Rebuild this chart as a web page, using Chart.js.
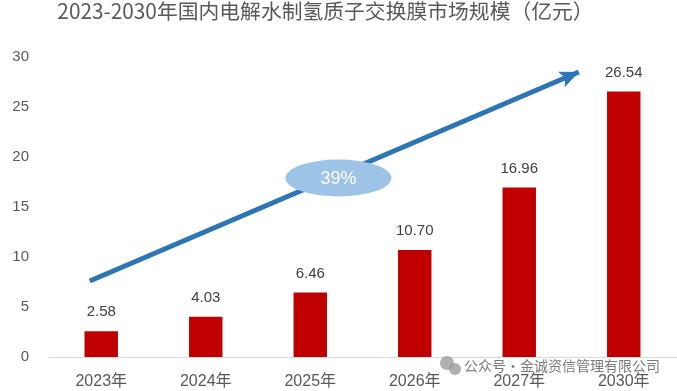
<!DOCTYPE html>
<html>
<head>
<meta charset="utf-8">
<script src="https://cdn.jsdelivr.net/npm/chart.js@4/dist/chart.umd.min.js"></script>
<style>
  html, body { margin: 0; padding: 0; background: #fff; }
  #wrap { position: relative; width: 677px; height: 391px; }
  #title {
    position: absolute; left: 0; top: -2px; width: 651px;
    text-align: center; color: #595959;
    font: 20.8px "Noto Sans CJK SC", sans-serif; line-height: 24px;
  }
</style>
</head>
<body>
<div id="wrap">
  <canvas id="chart" width="677" height="391"></canvas>
  <div id="title">2023-2030年国内电解水制氢质子交换膜市场规模（亿元）</div>
</div>
<script>
// datos del gráfico
const years = ['2023年', '2024年', '2025年', '2026年', '2027年', '2030年'];
const marketSize = [2.58, 4.03, 6.46, 10.70, 16.96, 26.54];
const yTicks = [0, 5, 10, 15, 20, 25, 30];

// flecha de tendencia (índice de categoría, valor) y la tasa de crecimiento
const arrowX = [-0.11, 4.57];
const arrowY = [7.6, 28.5];
const cagrX = 2.27;
const cagrY = 17.9;
const cagrText = '39%';

const FONT = '"Liberation Sans", "Noto Sans CJK SC", sans-serif';

// etiquetas encima de cada barra
const barLabels = {
  id: 'barLabels',
  afterDatasetsDraw(chart) {
    const ctx = chart.ctx;
    const meta = chart.getDatasetMeta(0);
    ctx.save();
    ctx.font = '15px ' + FONT;
    ctx.fillStyle = '#404040';
    ctx.textAlign = 'center';
    ctx.textBaseline = 'middle';
    meta.data.forEach((bar, i) => {
      ctx.fillText(marketSize[i].toFixed(2), bar.x, bar.y - 19);
    });
    ctx.restore();
  }
};

// punta de flecha + elipse con el 39%
const trendDecor = {
  id: 'trendDecor',
  afterDatasetsDraw(chart) {
    const ctx = chart.ctx;
    const pts = chart.getDatasetMeta(1).data;
    const a = pts[0], b = pts[pts.length - 1];
    const ang = Math.atan2(b.y - a.y, b.x - a.x);
    const len = 19, half = 8.5;
    ctx.save();
    ctx.fillStyle = '#2E75B6';
    ctx.translate(b.x, b.y);
    ctx.rotate(ang);
    ctx.beginPath();
    ctx.moveTo(0, 0);
    ctx.lineTo(-len, -half);
    ctx.lineTo(-len * 0.78, 0);
    ctx.lineTo(-len, half);
    ctx.closePath();
    ctx.fill();
    ctx.restore();

    const cx = chart.scales.xa.getPixelForValue(cagrX);
    const cy = chart.scales.y.getPixelForValue(cagrY);
    ctx.save();
    ctx.fillStyle = '#9DC3E6';
    ctx.beginPath();
    ctx.ellipse(cx, cy, 53, 18.5, 0, 0, Math.PI * 2);
    ctx.fill();
    ctx.fillStyle = '#ffffff';
    ctx.font = '18px ' + FONT;
    ctx.textAlign = 'center';
    ctx.textBaseline = 'middle';
    ctx.fillText(cagrText, cx, cy + 1);
    ctx.restore();
  }
};

// marca de agua
const watermark = {
  id: 'watermark',
  afterDraw(chart) {
    const ctx = chart.ctx;
    ctx.save();
    ctx.fillStyle = 'rgba(150,150,150,0.75)';
    ctx.beginPath();
    ctx.arc(447, 363, 7, 0, Math.PI * 2);
    ctx.fill();
    ctx.beginPath();
    ctx.arc(455, 369, 6, 0, Math.PI * 2);
    ctx.fill();
    ctx.fillStyle = 'rgba(90,90,90,0.8)';
    ctx.font = '14px "Noto Sans CJK SC", sans-serif';
    ctx.textBaseline = 'middle';
    ctx.fillText('公众号·金诚资信管理有限公司', 464, 366);
    ctx.restore();
  }
};

new Chart(document.getElementById('chart'), {
  type: 'bar',
  data: {
    labels: years,
    datasets: [{
      data: marketSize,
      backgroundColor: '#C00000',
      grouped: false,
      barPercentage: 0.32,
      categoryPercentage: 1,
      order: 2
    }, {
      type: 'line',
      xAxisID: 'xa',
      data: arrowX.map((x, i) => ({ x, y: arrowY[i] })),
      borderColor: '#2E75B6',
      borderWidth: 5,
      pointRadius: 0,
      order: 1
    }]
  },
  options: {
    responsive: false,
    animation: false,
    layout: { padding: { top: 57, left: 12, right: 1, bottom: 0 } },
    plugins: {
      legend: { display: false },
      tooltip: { enabled: false },
      title: { display: false }
    },
    scales: {
      x: {
        grid: { display: false, drawTicks: false },
        border: { display: true, color: '#D9D9D9', width: 1 },
        ticks: { color: '#595959', font: { size: 16, family: FONT }, padding: 15 },
        afterFit: axis => {
          axis.paddingLeft = 0;
          axis.paddingRight = 0;
          axis.height = 34;
        }
      },
      xa: {
        type: 'linear',
        display: false,
        offset: false,
        min: -0.5,
        max: years.length - 0.5
      },
      y: {
        min: 0,
        max: 30,
        afterBuildTicks: axis => { axis.ticks = yTicks.map(v => ({ value: v })); },
        grid: { display: false, drawTicks: false },
        border: { display: false },
        ticks: { color: '#595959', font: { size: 15, family: FONT }, padding: 20 },
        afterFit: axis => { axis.width = 37; }
      }
    }
  },
  plugins: [barLabels, trendDecor, watermark]
});
</script>
</body>
</html>
